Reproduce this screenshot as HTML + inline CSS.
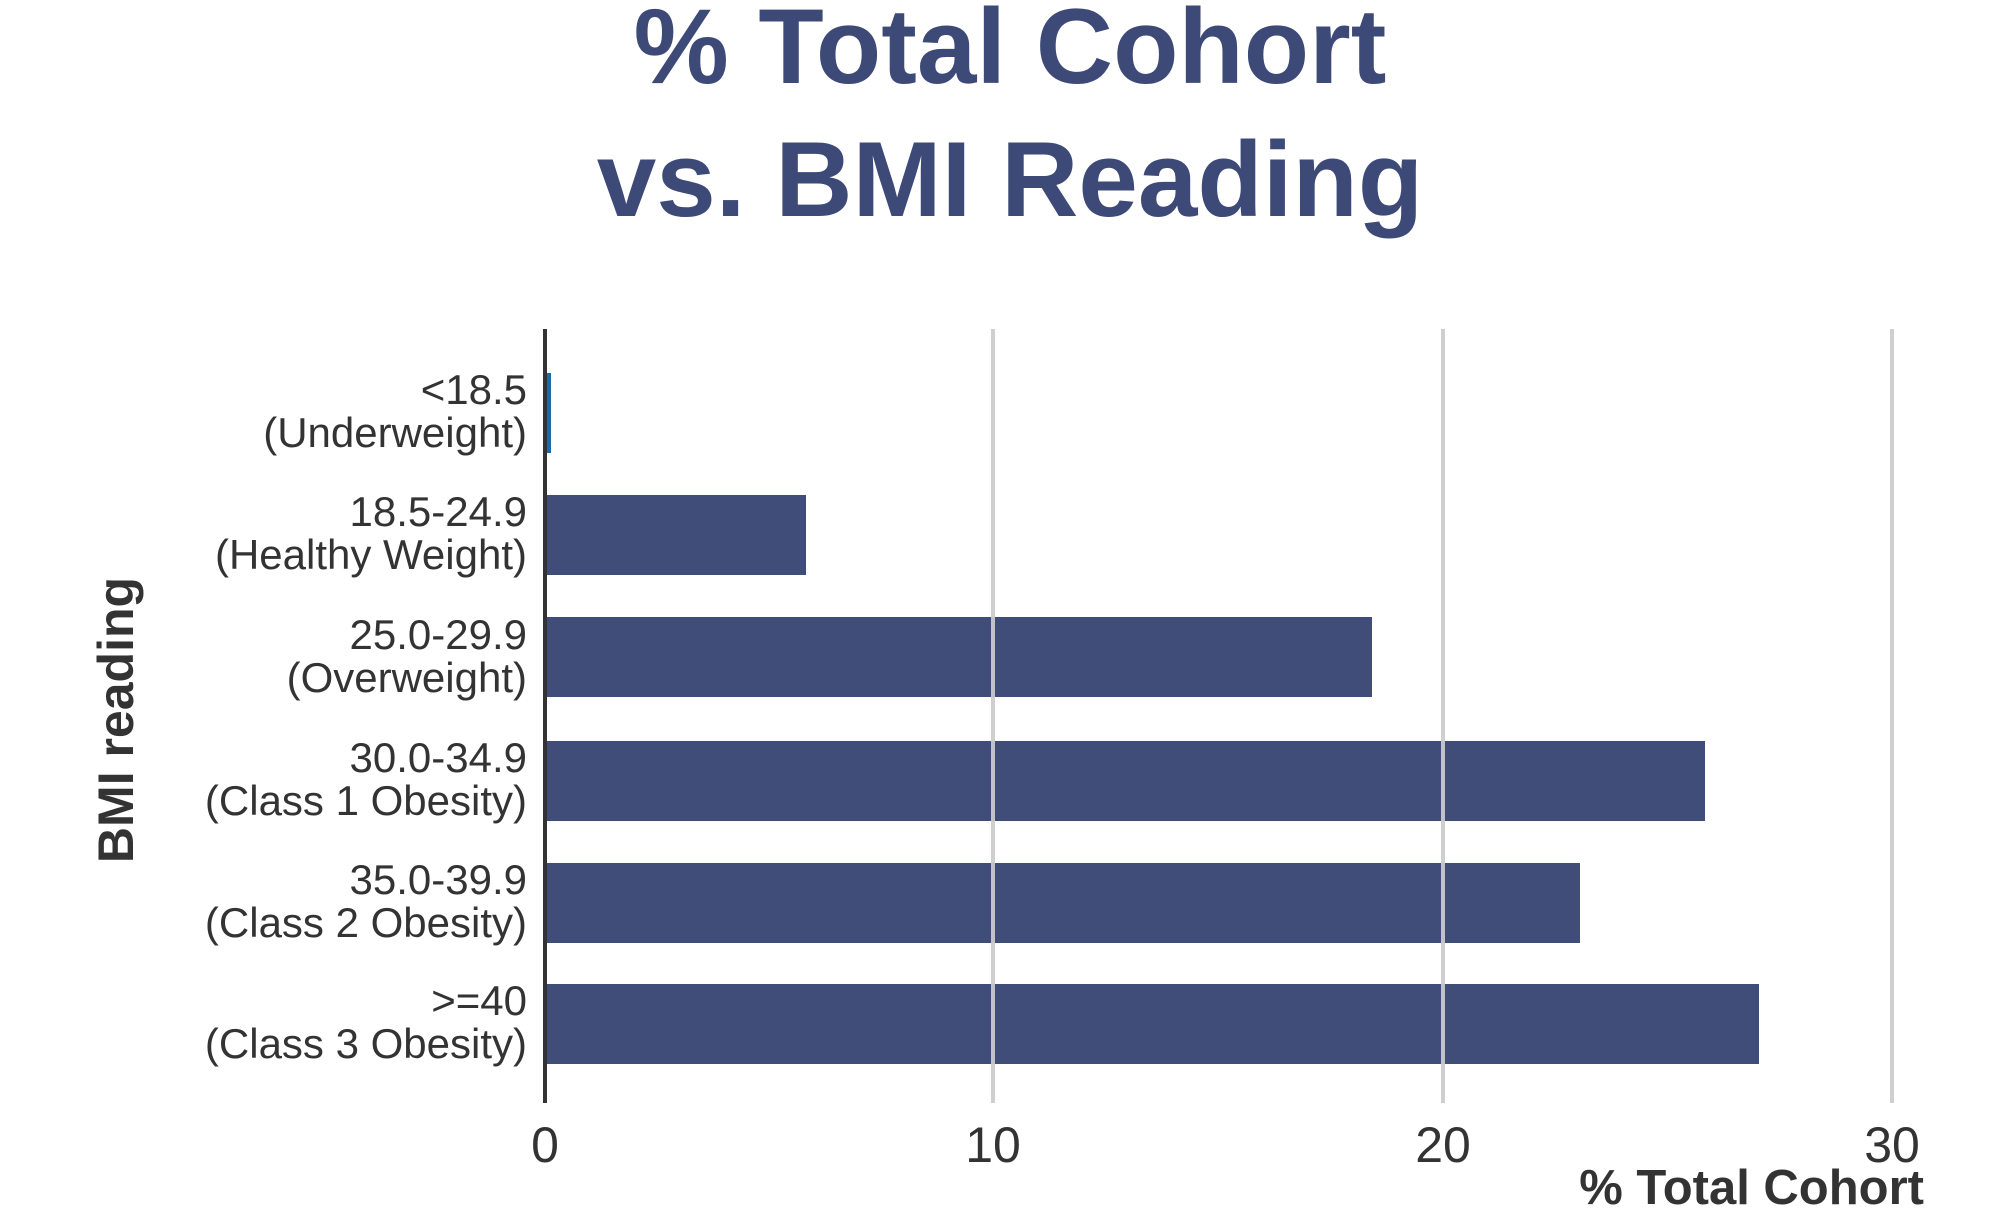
<!DOCTYPE html>
<html><head><style>
html,body{margin:0;padding:0;background:#fff;}
svg{display:block;}
text{font-family:"Liberation Sans",sans-serif;}
</style></head><body>
<svg width="2000" height="1209" viewBox="0 0 2000 1209" xmlns="http://www.w3.org/2000/svg">
<rect width="2000" height="1209" fill="#fff"/>
<text x="1010" y="83" text-anchor="middle" font-size="107" font-weight="bold" fill="#3d4a77">% Total Cohort</text>
<text x="1010" y="216" text-anchor="middle" font-size="107" font-weight="bold" fill="#3d4a77">vs. BMI Reading</text>
<g stroke="#cfcfcf" stroke-width="4">
<line x1="993" y1="329" x2="993" y2="1103"/>
<line x1="1443" y1="329" x2="1443" y2="1103"/>
<line x1="1892" y1="329" x2="1892" y2="1103"/>
</g>
<g fill="#3f4d78">
<rect x="545" y="495" width="261" height="80"/>
<rect x="545" y="617" width="827" height="80"/>
<rect x="545" y="741" width="1160" height="80"/>
<rect x="545" y="863" width="1035" height="80"/>
<rect x="545" y="984" width="1214" height="80"/>
</g>
<rect x="545" y="373" width="6" height="80" fill="#1f6aa5"/>
<g stroke="#cfcfcf" stroke-width="4" opacity="0.9">
<line x1="993" y1="617" x2="993" y2="1064"/>
<line x1="1443" y1="741" x2="1443" y2="1064"/>
</g>
<line x1="545" y1="329" x2="545" y2="1103" stroke="#333" stroke-width="4"/>
<g font-size="42" fill="#333" text-anchor="end">
<text x="527" y="404">&lt;18.5</text><text x="527" y="447">(Underweight)</text>
<text x="527" y="526">18.5-24.9</text><text x="527" y="569">(Healthy Weight)</text>
<text x="527" y="649">25.0-29.9</text><text x="527" y="692">(Overweight)</text>
<text x="527" y="772">30.0-34.9</text><text x="527" y="815">(Class 1 Obesity)</text>
<text x="527" y="894">35.0-39.9</text><text x="527" y="937">(Class 2 Obesity)</text>
<text x="527" y="1015">&gt;=40</text><text x="527" y="1058">(Class 3 Obesity)</text>
</g>
<g font-size="50" fill="#333" text-anchor="middle">
<text x="545" y="1162">0</text>
<text x="993" y="1162">10</text>
<text x="1443" y="1162">20</text>
<text x="1892" y="1162">30</text>
</g>
<text x="1924" y="1204" text-anchor="end" font-size="49" font-weight="bold" fill="#333">% Total Cohort</text>
<text transform="translate(133,720) rotate(-90)" text-anchor="middle" font-size="50" font-weight="bold" fill="#333">BMI reading</text>
</svg>
</body></html>
